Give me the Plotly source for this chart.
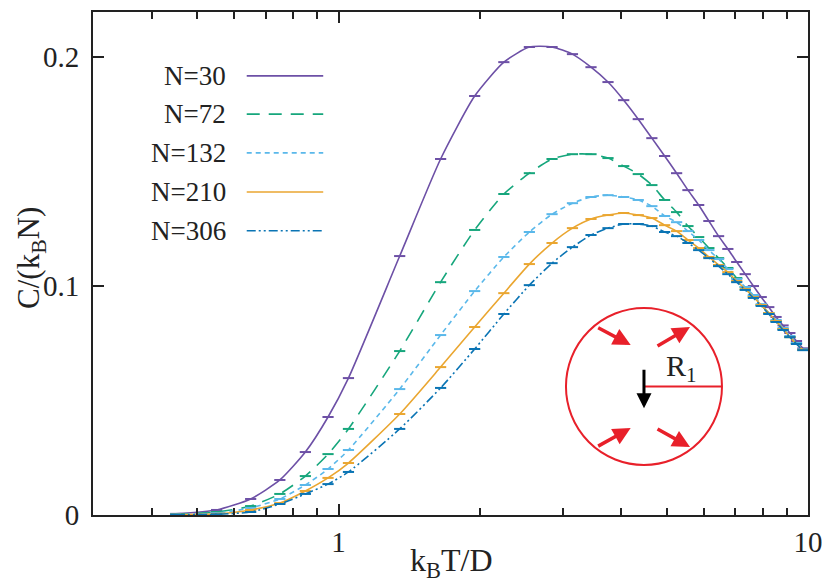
import plotly.graph_objects as go

# temperature grid k_B T / D
T = [0.45, 0.55, 0.65, 0.75, 0.85, 0.95, 1.05,
     1.35, 1.65, 1.95, 2.25, 2.55, 2.85, 3.15, 3.45, 3.75, 4.05,
     4.35, 4.65, 4.95, 5.25, 5.55, 5.85, 6.15, 6.45, 6.75, 7.05,
     7.35, 7.65, 7.95, 8.25, 8.55, 8.85, 9.15, 9.45, 9.75]

# specific heat C/(k_B N) for each system size
c_30 = [0.0005, 0.0022, 0.0070, 0.0153, 0.0275, 0.0428, 0.0598,
        0.1131, 0.1555, 0.1830, 0.1978, 0.2044, 0.2044, 0.2013, 0.1956, 0.1891, 0.1812,
        0.1729, 0.1646, 0.1568, 0.1493, 0.1419, 0.1354, 0.1284, 0.1218, 0.1162, 0.1105,
        0.1052, 0.1000, 0.0952, 0.0908, 0.0865, 0.0828, 0.0795, 0.0760, 0.0728]
c_72 = [0.0003, 0.0013, 0.0039, 0.0092, 0.0170, 0.0266, 0.0376,
        0.0716, 0.1017, 0.1245, 0.1402, 0.1493, 0.1555, 0.1576, 0.1576, 0.1559, 0.1524,
        0.1489, 0.1441, 0.1376, 0.1323, 0.1262, 0.1214, 0.1166, 0.1122, 0.1079, 0.1035,
        0.0996, 0.0956, 0.0917, 0.0882, 0.0847, 0.0812, 0.0777, 0.0751, 0.0722]
c_132 = [0.0002, 0.0008, 0.0031, 0.0070, 0.0131, 0.0201, 0.0284,
         0.0550, 0.0786, 0.0978, 0.1127, 0.1236, 0.1314, 0.1362, 0.1389, 0.1397, 0.1389,
         0.1376, 0.1349, 0.1306, 0.1279, 0.1240, 0.1201, 0.1157, 0.1118, 0.1074, 0.1031,
         0.0996, 0.0961, 0.0921, 0.0882, 0.0852, 0.0817, 0.0782, 0.0751, 0.0723]
c_210 = [0.0001, 0.0005, 0.0022, 0.0052, 0.0105, 0.0162, 0.0227,
         0.0441, 0.0646, 0.0821, 0.0969, 0.1096, 0.1188, 0.1253, 0.1293, 0.1310, 0.1319,
         0.1310, 0.1297, 0.1266, 0.1240, 0.1201, 0.1166, 0.1127, 0.1092, 0.1061, 0.1022,
         0.0987, 0.0952, 0.0917, 0.0882, 0.0847, 0.0812, 0.0777, 0.0747, 0.0721]
c_306 = [0.0001, 0.0003, 0.0013, 0.0048, 0.0092, 0.0135, 0.0188,
         0.0376, 0.0555, 0.0725, 0.0878, 0.1004, 0.1100, 0.1170, 0.1223, 0.1253, 0.1271,
         0.1271, 0.1262, 0.1236, 0.1218, 0.1188, 0.1157, 0.1122, 0.1087, 0.1052, 0.1017,
         0.0983, 0.0948, 0.0913, 0.0878, 0.0843, 0.0808, 0.0777, 0.0747, 0.0720]

labels = ["N=30", "N=72", "N=132", "N=210", "N=306"]
series = [c_30, c_72, c_132, c_210, c_306]
colors = ["#6d50a6", "#16a67c", "#5ab8ea", "#eaa630", "#0a74b4"]
dashes = ["solid", "13px,9px", "5px,4px", "solid", "9px,3px,2px,3px,2px,3px"]

FONT = "Liberation Serif"
INK = "#222"

fig = go.Figure()
for lab, ys, col, dsh in zip(labels, series, colors, dashes):
    fig.add_trace(go.Scatter(
        x=T, y=ys, mode="lines+markers", name=lab,
        line=dict(color=col, width=1.6, dash=dsh, shape="spline", smoothing=0.6),
        marker=dict(symbol="line-ew", size=8, line=dict(color=col, width=2)),
        showlegend=False,
    ))

# hand-made legend: label text on the left, line sample on the right
leg_y = [0.873, 0.797, 0.720, 0.642, 0.565]
for lab, col, dsh, yy in zip(labels, colors, dashes, leg_y):
    fig.add_annotation(x=0.189, y=yy, xref="paper", yref="paper", text=lab,
                       showarrow=False, xanchor="right", yanchor="middle",
                       font=dict(family=FONT, size=27, color=INK))
    fig.add_shape(type="line", xref="paper", yref="paper",
                  x0=0.215, x1=0.322, y0=yy, y1=yy,
                  line=dict(color=col, width=1.6, dash=dsh))

# axis titles
fig.add_annotation(x=0.5, y=-0.095, xref="paper", yref="paper",
                   text="k<sub>B</sub>T/D", showarrow=False,
                   xanchor="center", yanchor="middle",
                   font=dict(family=FONT, size=32, color=INK))
fig.add_annotation(x=-0.086, y=0.51, xref="paper", yref="paper",
                   text="C/(k<sub>B</sub>N)", showarrow=False, textangle=-90,
                   xanchor="center", yanchor="middle",
                   font=dict(family=FONT, size=31, color=INK))

# inset sketch
red = "#e8202a"
fig.add_shape(type="circle", xref="paper", yref="paper",
              x0=0.6615, x1=0.8797, y0=0.0994, y1=0.4115,
              line=dict(color=red, width=2))
fig.add_shape(type="line", xref="paper", yref="paper",
              x0=0.7706, x1=0.8797, y0=0.2555, y1=0.2555,
              line=dict(color=red, width=2))
fig.add_annotation(x=0.823, y=0.292, xref="paper", yref="paper",
                   text="R<sub>1</sub>", showarrow=False,
                   xanchor="center", yanchor="middle",
                   font=dict(family=FONT, size=30, color=INK))
fig.add_annotation(x=0.7706, y=0.212, xref="paper", yref="paper", text="",
                   showarrow=True, arrowhead=2, arrowsize=1, arrowwidth=3,
                   arrowcolor="black", ax=0, ay=-40)
for hx, hy, dx, dy in [(0.752, 0.338, -34, -18), (0.835, 0.374, -34, 20),
                       (0.752, 0.173, -34, 19), (0.835, 0.135, -34, -19)]:
    fig.add_annotation(x=hx, y=hy, xref="paper", yref="paper", text="",
                       showarrow=True, arrowhead=2, arrowsize=1, arrowwidth=3.5,
                       arrowcolor=red, ax=dx, ay=dy)

fig.update_xaxes(
    type="log", range=[-0.5229, 1.0], automargin=False,
    tickvals=[1, 10], ticktext=["1", "10"],
    ticks="inside", ticklen=11, tickwidth=2, tickcolor=INK,
    minor=dict(tickvals=[0.4, 0.5, 0.6, 0.7, 0.8, 0.9, 2, 3, 4, 5, 6, 7, 8, 9],
               ticks="inside", ticklen=7, tickwidth=2, tickcolor=INK, showgrid=False),
    showline=True, linewidth=2, linecolor=INK, mirror="ticks",
    showgrid=False, zeroline=False, ticklabelstandoff=0,
    tickfont=dict(family=FONT, size=29, color=INK),
)
fig.update_yaxes(
    range=[0, 0.2197], automargin=False,
    tickvals=[0, 0.1, 0.2], ticktext=["0", "0.1", "0.2"],
    ticks="inside", ticklen=11, tickwidth=2, tickcolor=INK,
    showline=True, linewidth=2, linecolor=INK, mirror="ticks",
    showgrid=False, zeroline=False, ticklabelstandoff=6,
    tickfont=dict(family=FONT, size=29, color=INK),
)
# page body has an 8px margin, so size and margins are set to land the plot box
# at the same pixels as the reference (x 93..808, y 12..515)
fig.update_layout(
    width=822, height=580,
    margin=dict(l=85, r=22, t=4, b=73),
    plot_bgcolor="white", paper_bgcolor="white",
)

fig.write_html("out.html")
